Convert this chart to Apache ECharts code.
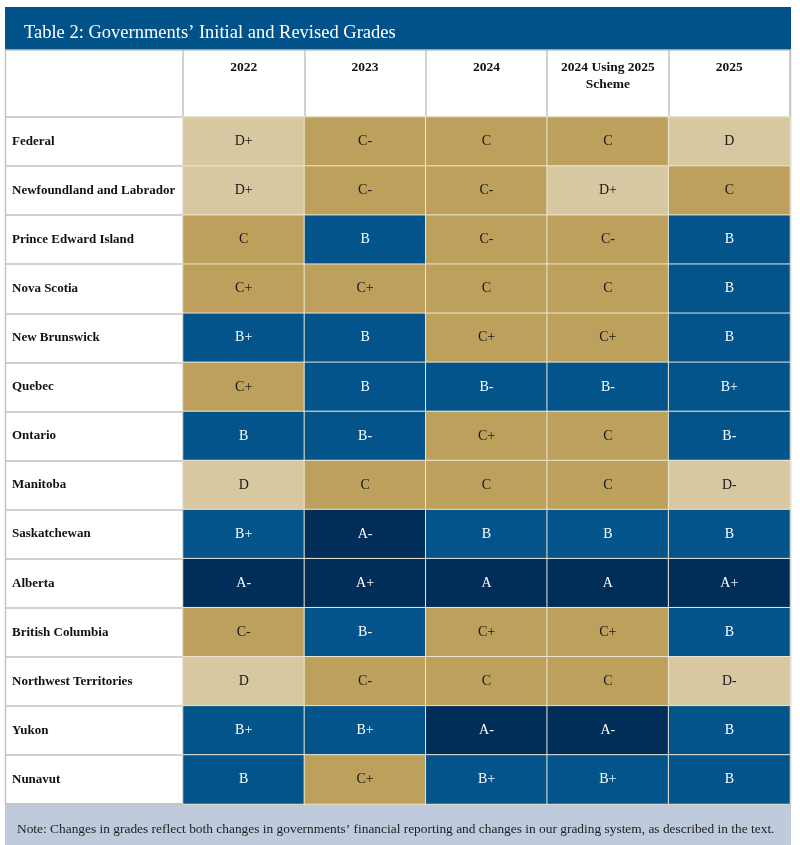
<!DOCTYPE html>
<html>
<head>
<meta charset="utf-8">
<script src="https://cdn.jsdelivr.net/npm/echarts@6/dist/echarts.min.js"></script>
<style>
  html, body { margin: 0; padding: 0; background: #fff; }
  #table { width: 800px; height: 845px; }
</style>
</head>
<body>
<div id="table"></div>
<script>
// column headers and row names
var columns = ["2022", "2023", "2024", "2024 Using 2025\nScheme", "2025"];
var governments = [
  "Federal", "Newfoundland and Labrador", "Prince Edward Island", "Nova Scotia",
  "New Brunswick", "Quebec", "Ontario", "Manitoba", "Saskatchewan", "Alberta",
  "British Columbia", "Northwest Territories", "Yukon", "Nunavut"
];
// grades, one list per government, in column order
var federal      = ["D+", "C-", "C", "C", "D"];
var newfoundland = ["D+", "C-", "C-", "D+", "C"];
var pei          = ["C", "B", "C-", "C-", "B"];
var novaScotia   = ["C+", "C+", "C", "C", "B"];
var newBrunswick = ["B+", "B", "C+", "C+", "B"];
var quebec       = ["C+", "B", "B-", "B-", "B+"];
var ontario      = ["B", "B-", "C+", "C", "B-"];
var manitoba     = ["D", "C", "C", "C", "D-"];
var saskatchewan = ["B+", "A-", "B", "B", "B"];
var alberta      = ["A-", "A+", "A", "A", "A+"];
var bc           = ["C-", "B-", "C+", "C+", "B"];
var nwt          = ["D", "C-", "C", "C", "D-"];
var yukon        = ["B+", "B+", "A-", "A-", "B"];
var nunavut      = ["B", "C+", "B+", "B+", "B"];
var grades = [federal, newfoundland, pei, novaScotia, newBrunswick, quebec, ontario,
  manitoba, saskatchewan, alberta, bc, nwt, yukon, nunavut];

var title = "Table 2: Governments\u2019 Initial and Revised Grades";
var note = "Note: Changes in grades reflect both changes in governments\u2019 financial reporting and changes in our grading system, as described in the text.";

var fillByLetter = { A: "#002e58", B: "#02548a", C: "#bca05c", D: "#d8c8a2" };
var textByLetter = { A: "#ffffff", B: "#ffffff", C: "#1a1a1a", D: "#1a1a1a" };
var serif = "'Liberation Serif', 'DejaVu Serif', serif";

var data = [];
grades.forEach(function (row, r) {
  row.forEach(function (g, c) {
    var letter = g.charAt(0);
    data.push({
      value: [c, r, 1],
      grade: g,
      itemStyle: { color: fillByLetter[letter] },
      label: { color: textByLetter[letter] }
    });
  });
});

var myChart = echarts.init(document.getElementById("table"));
myChart.setOption({
  animation: false,
  graphic: [
    { type: "rect", shape: { x: 5, y: 7, width: 786, height: 43 },
      style: { fill: "#02528a" }, z: -1 },
    { type: "rect", shape: { x: 5, y: 804, width: 786, height: 41 },
      style: { fill: "#c0cadd" }, z: -1 },
    { type: "rect", shape: { x: 5.5, y: 50, width: 785, height: 754 },
      style: { fill: "none", stroke: "#c4c4c4", lineWidth: 1.5 }, z: -1 }
  ],
  title: [
    { text: title, left: 19, top: 19,
      textStyle: { color: "#fff", fontFamily: serif, fontSize: 18.5, fontWeight: "normal" } },
    { text: note, left: 12, top: 818,
      textStyle: { color: "#222", fontFamily: serif, fontSize: 13.4, fontWeight: "normal" } }
  ],
  grid: { left: 183, right: 10, top: 117, bottom: 41 },
  xAxis: {
    type: "category",
    position: "top",
    data: columns,
    axisLine: { show: true, lineStyle: { color: "#c4c4c4", width: 1.5 } },
    axisTick: { show: true, inside: false, length: 67, interval: 0,
      lineStyle: { color: "#c4c4c4", width: 1.5 } },
    axisLabel: { interval: 0, margin: 58, verticalAlign: "top",
      fontFamily: serif, fontSize: 13.5, fontWeight: "bold", color: "#111", lineHeight: 17 },
    splitLine: { show: false }
  },
  yAxis: {
    type: "category",
    inverse: true,
    data: governments,
    axisLine: { show: true, lineStyle: { color: "#c4c4c4", width: 1.5 } },
    axisTick: { show: true, length: 178, interval: 0,
      lineStyle: { color: "#c4c4c4", width: 1.5 } },
    axisLabel: { interval: 0, align: "left", margin: 171,
      fontFamily: serif, fontSize: 13, fontWeight: "bold", color: "#111" },
    splitLine: { show: false }
  },
  series: [{
    type: "heatmap",
    data: data,
    itemStyle: { borderColor: "#ece6d6", borderWidth: 1 },
    label: {
      show: true,
      fontFamily: serif,
      fontSize: 14,
      formatter: function (p) { return p.data.grade; }
    },
    emphasis: { disabled: true }
  }]
});
</script>
</body>
</html>
